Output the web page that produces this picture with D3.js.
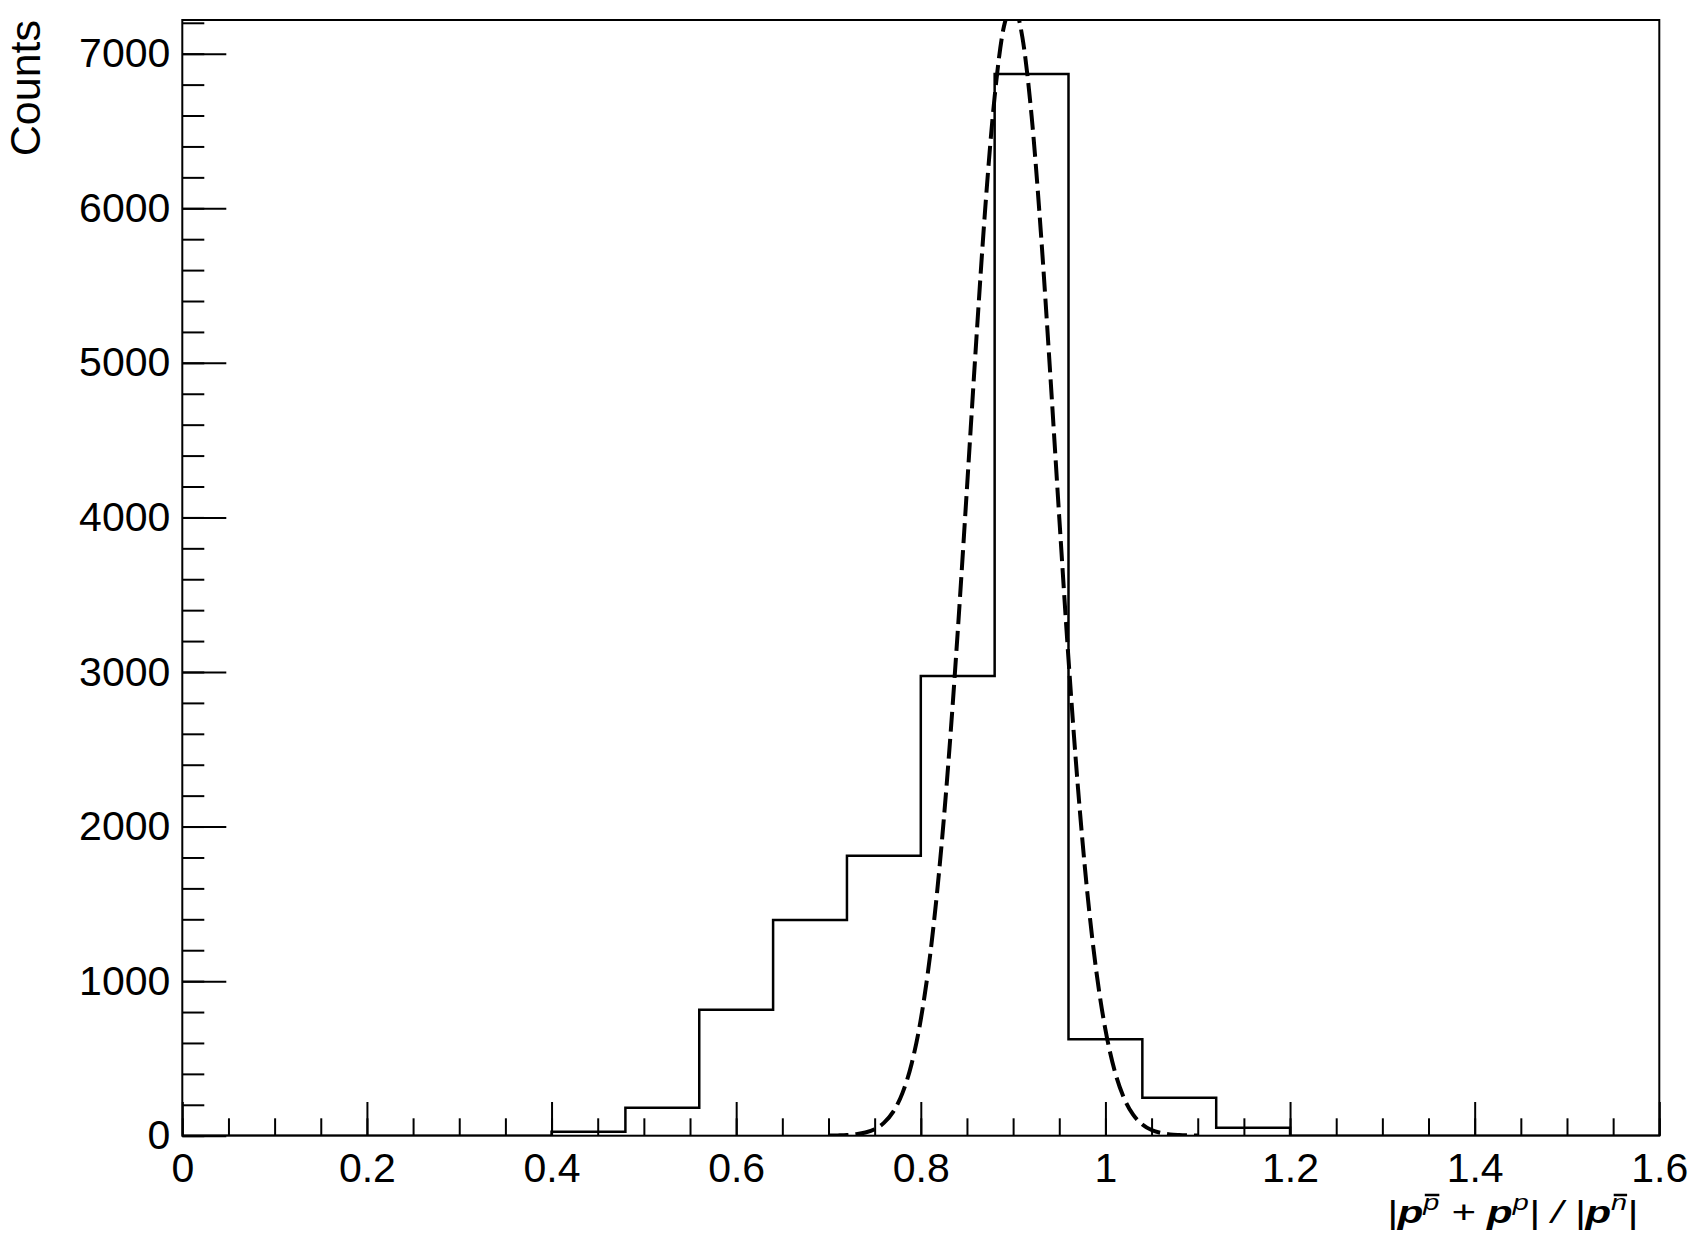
<!DOCTYPE html>
<html>
<head>
<meta charset="utf-8">
<script src="https://cdn.jsdelivr.net/npm/d3@7"></script>
<style>
  html, body { margin: 0; padding: 0; background: #fff; }
  svg { display: block; font-family: "Liberation Sans", Arial, Helvetica, sans-serif; }
</style>
</head>
<body>
<svg id="chart"></svg>
<script>
// histogram: bin edges (width 0.08) and counts per bin
var binEdges = [0, 0.08, 0.16, 0.24, 0.32, 0.40, 0.48, 0.56, 0.64, 0.72, 0.80,
                0.88, 0.96, 1.04, 1.12, 1.20, 1.28, 1.36, 1.44, 1.52, 1.60];
var binCounts = [0, 0, 0, 0, 0, 26, 181, 815, 1395, 1811, 2974,
                 6869, 624, 246, 52, 0, 0, 0, 0, 0];

// dashed fit curve
var fitX = [0.70, 0.71, 0.72, 0.73, 0.74, 0.75, 0.76, 0.77, 0.78, 0.79, 0.80,
            0.81, 0.82, 0.83, 0.84, 0.85, 0.86, 0.87, 0.88, 0.89, 0.90,
            0.91, 0.92, 0.93, 0.94, 0.95, 0.96, 0.97, 0.98, 0.99, 1.00,
            1.01, 1.02, 1.03, 1.04, 1.05, 1.06, 1.07, 1.08, 1.09, 1.10];
var fitY = [1, 2, 4, 10, 21, 42, 83, 154, 274, 464, 752,
            1163, 1719, 2422, 3260, 4188, 5136, 6015, 6722, 7174, 7308,
            7108, 6599, 5849, 4949, 3999, 3083, 2270, 1596, 1070, 686,
            420, 245, 136, 73, 37, 18, 8, 4, 2, 1];

var xTicks = [0, 0.2, 0.4, 0.6, 0.8, 1.0, 1.2, 1.4, 1.6];
var yTicks = [0, 1000, 2000, 3000, 4000, 5000, 6000, 7000];
var xDomain = [0, 1.6];
var yDomain = [0, 7218];

var W = 1702, H = 1250;
var frameL = 182.3, frameR = 1659.3, frameT = 20, frameB = 1135.7;

var svg = d3.select("#chart").attr("width", W).attr("height", H);
svg.append("rect").attr("width", W).attr("height", H).attr("fill", "#fff");

var x = d3.scaleLinear().domain(xDomain).range([frameL, frameR]);
var y = d3.scaleLinear().domain(yDomain).range([frameB, frameT]);

svg.append("defs").append("clipPath").attr("id", "frameClip")
  .append("rect")
  .attr("x", frameL).attr("y", frameT)
  .attr("width", frameR - frameL).attr("height", frameB - frameT);

// minor ticks
svg.append("g")
  .attr("transform", "translate(0," + frameB + ")")
  .call(d3.axisBottom(x).tickValues(d3.range(0, 1.6001, 0.05)).tickSize(-17.4).tickSizeOuter(0).tickFormat(""))
  .call(g => g.select(".domain").remove());
svg.append("g")
  .attr("transform", "translate(" + frameL + ",0)")
  .call(d3.axisLeft(y).tickValues(d3.range(0, 7201, 200)).tickSize(-22).tickSizeOuter(0).tickFormat(""))
  .call(g => g.select(".domain").remove());

// major ticks with labels
var xAxis = svg.append("g")
  .attr("transform", "translate(0," + frameB + ")")
  .call(d3.axisBottom(x).tickValues(xTicks).tickSize(-33.7).tickSizeOuter(0)
    .tickPadding(17).tickFormat(d3.format("~g")));
xAxis.select(".domain").remove();

var yAxis = svg.append("g")
  .attr("transform", "translate(" + frameL + ",0)")
  .call(d3.axisLeft(y).tickValues(yTicks).tickSize(-44).tickSizeOuter(0)
    .tickPadding(12).tickFormat(d3.format("d")));
yAxis.select(".domain").remove();

svg.selectAll(".tick line").attr("stroke", "#000").attr("stroke-width", 2);
svg.selectAll(".tick text")
  .attr("fill", "#000")
  .style("font-size", "41px")
  .style("font-family", "'Liberation Sans', Arial, Helvetica, sans-serif");

// histogram outline
var stepPoints = binEdges.map(function(e, i) {
  return [e, binCounts[Math.min(i, binCounts.length - 1)]];
});
svg.append("path")
  .datum(stepPoints)
  .attr("clip-path", "url(#frameClip)")
  .attr("fill", "none")
  .attr("stroke", "#000")
  .attr("stroke-width", 2.5)
  .attr("d", d3.line()
    .x(function(d) { return x(d[0]); })
    .y(function(d) { return y(d[1]); })
    .curve(d3.curveStepAfter));

// fit curve
svg.append("path")
  .datum(fitX.map(function(v, i) { return [v, fitY[i]]; }))
  .attr("clip-path", "url(#frameClip)")
  .attr("fill", "none")
  .attr("stroke", "#000")
  .attr("stroke-width", 4)
  .attr("stroke-dasharray", "20 7")
  .attr("d", d3.line()
    .x(function(d) { return x(d[0]); })
    .y(function(d) { return y(d[1]); })
    .curve(d3.curveMonotoneX));

// frame
svg.append("rect")
  .attr("x", frameL).attr("y", frameT)
  .attr("width", frameR - frameL).attr("height", frameB - frameT)
  .attr("fill", "none")
  .attr("stroke", "#000")
  .attr("stroke-width", 2);

// y title
svg.append("text")
  .attr("transform", "translate(40," + frameT + ") rotate(-90)")
  .attr("text-anchor", "end")
  .style("font-size", "43px")
  .text("Counts");

// x title: |p^p̄ + p^p| / |p^n̄|
var titleParts = [
  { s: "|" },
  { s: "p", bold: true },
  { s: "p", sup: true, over: true },
  { s: " + " },
  { s: "p", bold: true },
  { s: "p", sup: true },
  { s: "| / |" },
  { s: "p", bold: true },
  { s: "n", sup: true, over: true },
  { s: "|" }
];
var supShift = 13;
var titleG = svg.append("g")
  .attr("transform", "translate(1638,1223) scale(1.31,1)");
var title = titleG.append("text")
  .attr("x", 0).attr("y", 0)
  .attr("text-anchor", "end")
  .style("font-style", "italic")
  .style("font-size", "32px")
  .style("white-space", "pre");
var shift = 0;
var overSpans = [];
titleParts.forEach(function(p) {
  var ts = title.append("tspan").text(p.s);
  var target = p.sup ? -supShift : 0;
  if (target !== shift) { ts.attr("dy", target - shift); shift = target; }
  if (p.bold) ts.style("font-weight", "bold");
  if (p.sup) ts.style("font-size", "22px");
  if (p.over) overSpans.push(ts);
});
overSpans.forEach(function(ts) {
  var b = ts.node().getBBox();
  titleG.append("line")
    .attr("x1", b.x + 2).attr("x2", b.x + b.width)
    .attr("y1", -supShift - 15).attr("y2", -supShift - 15)
    .attr("stroke", "#000")
    .attr("stroke-width", 2.5);
});
</script>
</body>
</html>
